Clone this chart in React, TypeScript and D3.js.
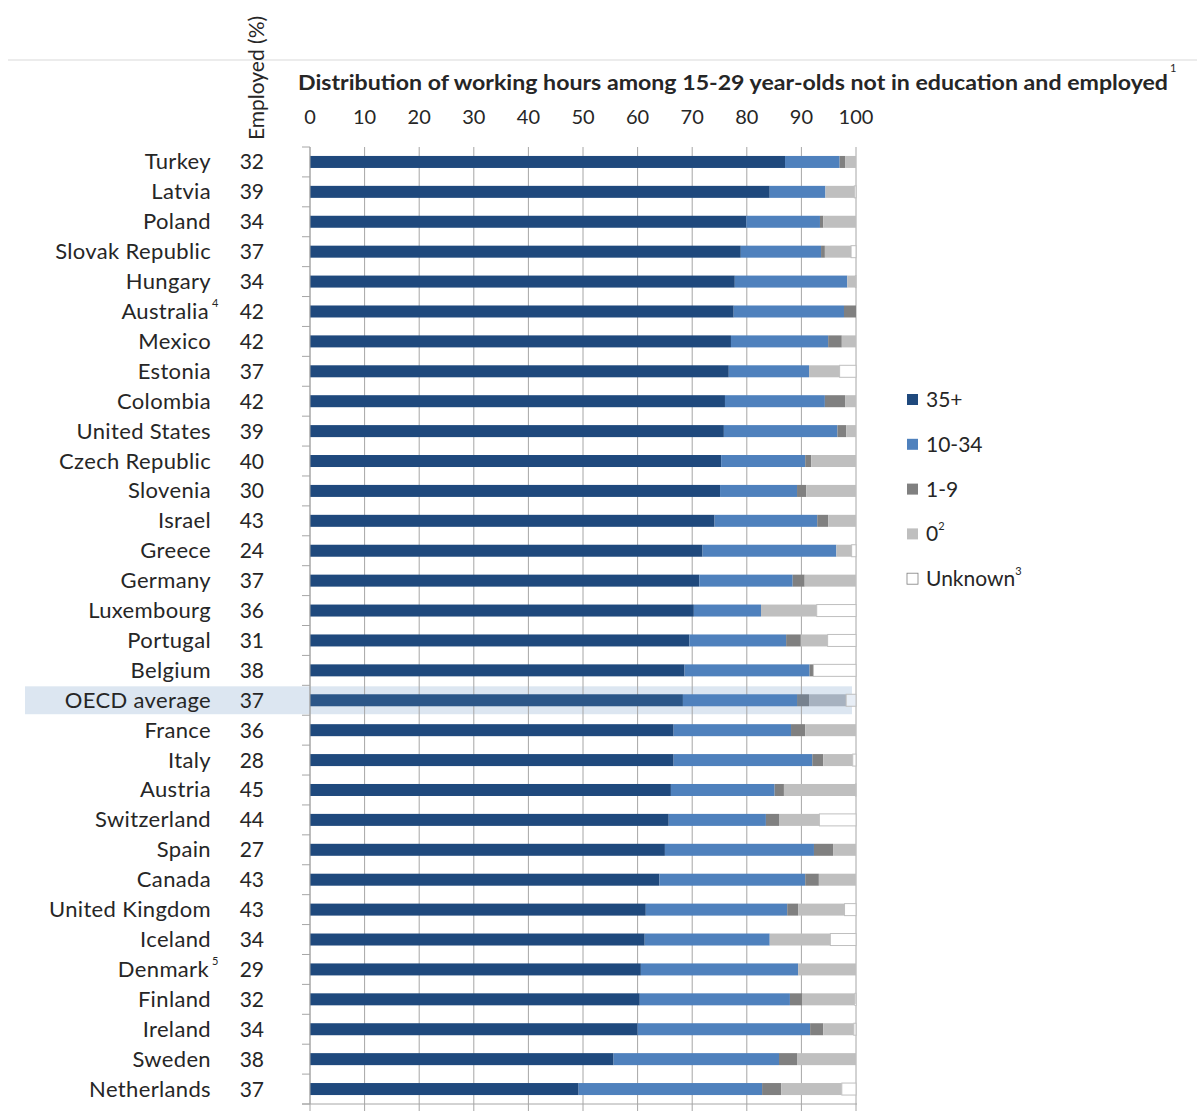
import React from "react";
import * as d3 from "d3";

const countries = ["Turkey","Latvia","Poland","Slovak Republic","Hungary","Australia","Mexico","Estonia","Colombia","United States","Czech Republic","Slovenia","Israel","Greece","Germany","Luxembourg","Portugal","Belgium","OECD average","France","Italy","Austria","Switzerland","Spain","Canada","United Kingdom","Iceland","Denmark","Finland","Ireland","Sweden","Netherlands"];
const countryNotes = ["","","","","","4","","","","","","","","","","","","","","","","","","","","","","5","","","",""];
const employed = [32,39,34,37,34,42,42,37,42,39,40,30,43,24,37,36,31,38,37,36,28,45,44,27,43,43,34,29,32,34,38,37];
const h35 = [87.0,84.2,79.9,78.9,77.8,77.6,77.1,76.7,76.0,75.8,75.3,75.1,74.1,71.9,71.3,70.3,69.5,68.6,68.3,66.6,66.6,66.1,65.7,65.0,64.0,61.5,61.3,60.6,60.4,60.0,55.6,49.2];
const h10 = [10.0,10.2,13.5,14.7,20.6,20.2,17.8,14.7,18.3,20.8,15.4,14.1,18.8,24.5,17.1,12.3,17.7,22.9,20.9,21.5,25.4,19.0,17.8,27.3,26.7,25.9,22.9,28.8,27.5,31.6,30.3,33.6];
const h1 = [1.0,0,0.6,0.7,0,2.2,2.5,0,3.7,1.6,1.1,1.7,2.0,0,2.2,0,2.7,0.7,2.2,2.6,2.0,1.7,2.4,3.5,2.5,2.0,0,0,2.3,2.4,3.3,3.5];
const h0 = [2.0,5.3,6.0,4.8,1.5,0,2.6,5.6,2.0,1.8,8.2,9.1,5.1,2.8,9.4,10.2,4.9,0,6.8,9.3,5.4,13.1,7.4,4.2,6.8,8.5,11.1,10.6,9.6,5.6,10.8,11.1];
const unknown = [0,0.3,0,0.9,0.1,0,0,3.0,0,0,0,0,0,0.8,0,7.2,5.2,7.8,1.8,0,0.6,0.1,6.7,0,0,2.1,4.7,0,0.2,0.4,0,2.6];
const ticks = [0,10,20,30,40,50,60,70,80,90,100];
const seriesKeys = ["h35","h10","h1","h0","unk"];
const seriesLabels = ["35+","10-34","1-9","0","Unknown"];
const seriesNotes = ["","","","2","3"];
const colors = ["#1f497d","#4f81bd","#808080","#bfbfbf","#ffffff"];
const oecdColors = ["#2b5688","#4f81bd","#77828f","#a7b2c0","#e8eef6"];

const FONT = "Lato, 'Open Sans', sans-serif";
const TXT = "#262626";

export default function App() {
  const W = 1197, H = 1111;
  const x = d3.scaleLinear().domain([0, 100]).range([310, 856]);
  const y = d3.scaleBand<string>().domain(countries).range([147, 1104]).padding(0);
  const barH = 12;
  const rows = countries.map((c, i) => ({ c, h35: h35[i], h10: h10[i], h1: h1[i], h0: h0[i], unk: unknown[i] }));
  const stack = d3.stack<any>().keys(seriesKeys)(rows);
  const oecd = "OECD average";
  const step = y.step();

  return (
    <svg width={W} height={H} style={{ position: "absolute", left: 0, top: 0, background: "#fff" }} fontFamily={FONT}>
      <line x1={8} x2={W} y1={60} y2={60} stroke="#d9d9d9" strokeWidth={1} />
      {/* highlight band */}
      <rect x={25} y={(y(oecd) as number) + 1} width={827} height={step - 2} fill="#dce6f1" />
      {/* gridlines */}
      {ticks.map(t => (
        <line key={"g" + t} x1={x(t)} x2={x(t)} y1={147} y2={1104} stroke="#a6a6a6" strokeWidth={1} />
      ))}
      {/* bars */}
      {stack.map((s, si) => (
        <g key={s.key}>
          {s.map((d, i) => {
            const w = x(d[1]) - x(d[0]);
            if (w <= 0.05) return null;
            const isO = countries[i] === oecd;
            const cy = (y(countries[i]) as number) + step / 2;
            return (
              <rect key={i} x={x(d[0])} y={cy - barH / 2} width={w} height={barH}
                fill={isO ? oecdColors[si] : colors[si]}
                stroke={si === 4 ? "#bfbfbf" : "none"} strokeWidth={si === 4 ? 1 : 0} />
            );
          })}
        </g>
      ))}
      {/* left axis */}
      <line x1={310} x2={310} y1={147} y2={1104} stroke="#a6a6a6" />
      {countries.map((c, i) => (
        <line key={"lt" + i} x1={302} x2={310} y1={(y(c) as number) + step} y2={(y(c) as number) + step} stroke="#a6a6a6" />
      ))}
      <line x1={302} x2={310} y1={147} y2={147} stroke="#a6a6a6" />
      {/* bottom axis */}
      <line x1={302} x2={857} y1={1104} y2={1104} stroke="#a6a6a6" />
      {ticks.map(t => (
        <line key={"bt" + t} x1={x(t)} x2={x(t)} y1={1104} y2={1111} stroke="#a6a6a6" />
      ))}
      {/* tick labels */}
      {ticks.map(t => (
        <text key={"tl" + t} x={x(t)} y={124} textAnchor="middle" fontSize={20} fill={TXT}>{t}</text>
      ))}
      {/* title */}
      <text x={298} y={90} fontSize={20} fontWeight="bold" fill={TXT} textLength={870} lengthAdjust="spacingAndGlyphs">
        Distribution of working hours among 15-29 year-olds not in education and employed
      </text>
      <text x={1170} y={72} fontSize={11} fill={TXT}>1</text>
      {/* employed header */}
      <text transform="translate(264,78) rotate(-90)" textAnchor="middle" fontSize={21} fill={TXT}>Employed (%)</text>
      {/* country labels */}
      {countries.map((c, i) => {
        const cy = (y(c) as number) + step / 2 + 7.5;
        return (
          <g key={"cl" + i}>
            <text x={countryNotes[i] ? 209 : 211} y={cy} textAnchor="end" fontSize={22} letterSpacing={0.35} fill={TXT}>{c}</text>
            {countryNotes[i] && <text x={212} y={cy - 12} fontSize={11} fill={TXT}>{countryNotes[i]}</text>}
            <text x={264} y={cy} textAnchor="end" fontSize={21} fill={TXT}>{employed[i]}</text>
          </g>
        );
      })}
      {/* legend */}
      {seriesLabels.map((l, i) => {
        const ly = 400 + i * 44.8;
        return (
          <g key={"lg" + i}>
            <rect x={907} y={ly - 6} width={11} height={11} fill={colors[i]} stroke={i === 4 ? "#7f7f7f" : "none"} strokeWidth={0.8} />
            <text x={926} y={ly + 7} fontSize={21} fill={TXT}>
              {l}
              {seriesNotes[i] && <tspan dy={-11} fontSize={11}>{seriesNotes[i]}</tspan>}
            </text>
          </g>
        );
      })}
    </svg>
  );
}
